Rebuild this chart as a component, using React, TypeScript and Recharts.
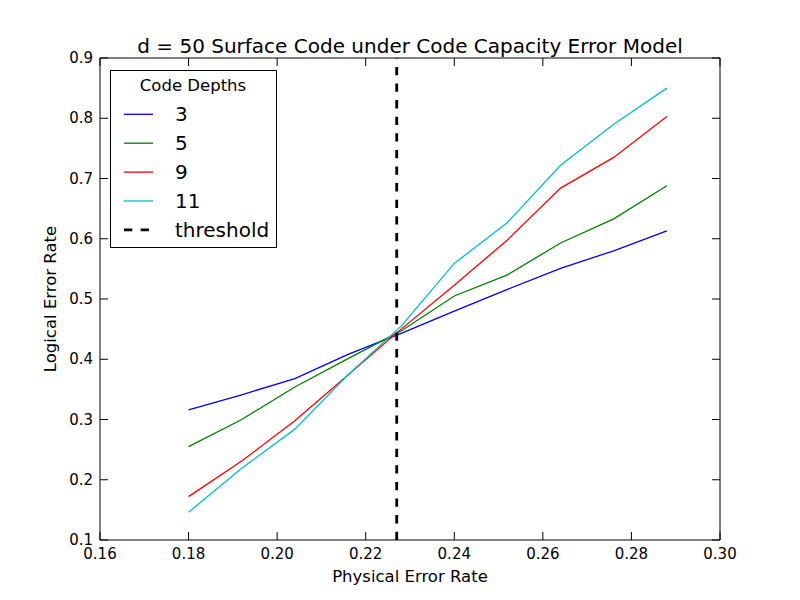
import React from 'react'
import { LineChart, Line, XAxis, YAxis, ReferenceLine } from 'recharts'

// physical error rates sampled
const physicalRates = [0.18, 0.192, 0.204, 0.216, 0.228, 0.24, 0.252, 0.264, 0.276, 0.288]

// logical error rate per code depth
const depth3 = [0.316, 0.341, 0.368, 0.408, 0.443, 0.48, 0.516, 0.551, 0.58, 0.613]
const depth5 = [0.255, 0.3, 0.354, 0.401, 0.447, 0.505, 0.54, 0.593, 0.633, 0.688]
const depth9 = [0.172, 0.231, 0.298, 0.374, 0.45, 0.523, 0.598, 0.684, 0.735, 0.803]
const depth11 = [0.146, 0.219, 0.284, 0.374, 0.455, 0.559, 0.627, 0.722, 0.79, 0.85]

const threshold = 0.227

const xTicks = [0.16, 0.18, 0.2, 0.22, 0.24, 0.26, 0.28, 0.3]
const yTicks = [0.1, 0.2, 0.3, 0.4, 0.5, 0.6, 0.7, 0.8, 0.9]

const seriesList = [
  { key: 'd3', label: '3', values: depth3, color: '#0000ff' },
  { key: 'd5', label: '5', values: depth5, color: '#008000' },
  { key: 'd9', label: '9', values: depth9, color: '#ff0000' },
  { key: 'd11', label: '11', values: depth11, color: '#00bfbf' },
]

const data = physicalRates.map((p, i) => {
  const row: Record<string, number> = { p }
  seriesList.forEach((s) => {
    row[s.key] = s.values[i]
  })
  return row
})

const FONT = '"DejaVu Sans", sans-serif'
const TICK_LEN = 8

// matplotlib-style inward ticks
const BottomTick = (props: any) => {
  const { x, y, payload } = props
  return (
    <g>
      <line x1={x} y1={y} x2={x} y2={y - TICK_LEN} stroke="#000" />
      <text x={x} y={y + 19} textAnchor="middle" fontSize={15} fontFamily={FONT} fill="#000">
        {Number(payload.value).toFixed(2)}
      </text>
    </g>
  )
}

const TopTick = (props: any) => {
  const { x, y } = props
  return <line x1={x} y1={y} x2={x} y2={y + TICK_LEN} stroke="#000" />
}

const LeftTick = (props: any) => {
  const { x, y, payload } = props
  return (
    <g>
      <line x1={x} y1={y} x2={x + TICK_LEN} y2={y} stroke="#000" />
      <text x={x - 7} y={y + 5} textAnchor="end" fontSize={15} fontFamily={FONT} fill="#000">
        {Number(payload.value).toFixed(1)}
      </text>
    </g>
  )
}

const RightTick = (props: any) => {
  const { x, y } = props
  return <line x1={x} y1={y} x2={x - TICK_LEN} y2={y} stroke="#000" />
}

function LegendBox() {
  const rows = [...seriesList.map((s) => ({ label: s.label, color: s.color, dash: undefined as string | undefined, w: 1.3 })),
    { label: 'threshold', color: '#000', dash: '8.3 8.3', w: 2.8 }]
  return (
    <svg width={168} height={179} style={{ position: 'absolute', left: 110, top: 70 }}>
      <rect x={0.5} y={0.5} width={166} height={177} fill="#fff" stroke="#000" />
      <text x={83} y={21} textAnchor="middle" fontSize={16.5} fontFamily={FONT}>Code Depths</text>
      {rows.map((r, i) => {
        const ly = 44.3 + i * 28.9
        return (
          <g key={r.label}>
            <line x1={14} y1={ly} x2={43} y2={ly} stroke={r.color} strokeWidth={r.w} strokeDasharray={r.dash} />
            <text x={65} y={ly + 7} fontSize={20} fontFamily={FONT}>{r.label}</text>
          </g>
        )
      })}
    </svg>
  )
}

export default function App() {
  return (
    <div style={{ position: 'absolute', left: 0, top: 0, width: 800, height: 600, background: '#fff', fontFamily: FONT }}>
      <LineChart width={800} height={600} data={data} margin={{ top: 57, right: 79, bottom: 0, left: 40 }}>
        <XAxis
          xAxisId="b"
          dataKey="p"
          type="number"
          domain={[0.16, 0.3]}
          ticks={xTicks}
          interval={0}
          allowDataOverflow
          height={60}
          tickSize={0}
          tickMargin={0}
          tickLine={false}
          axisLine={{ stroke: '#000' }}
          tick={BottomTick}
        />
        <XAxis
          xAxisId="t"
          orientation="top"
          dataKey="p"
          type="number"
          domain={[0.16, 0.3]}
          ticks={xTicks}
          interval={0}
          allowDataOverflow
          height={1}
          tickSize={0}
          tickMargin={0}
          tickLine={false}
          axisLine={{ stroke: '#000' }}
          tick={TopTick}
        />
        <YAxis
          yAxisId="l"
          type="number"
          domain={[0.1, 0.9]}
          ticks={yTicks}
          interval={0}
          allowDataOverflow
          width={60}
          tickSize={0}
          tickMargin={0}
          tickLine={false}
          axisLine={{ stroke: '#000' }}
          tick={LeftTick}
        />
        <YAxis
          yAxisId="r"
          orientation="right"
          type="number"
          domain={[0.1, 0.9]}
          ticks={yTicks}
          interval={0}
          allowDataOverflow
          width={1}
          tickSize={0}
          tickMargin={0}
          tickLine={false}
          axisLine={{ stroke: '#000' }}
          tick={RightTick}
        />
        {seriesList.map((s) => (
          <Line
            key={s.key}
            xAxisId="b"
            yAxisId="l"
            type="linear"
            dataKey={s.key}
            stroke={s.color}
            strokeWidth={1.3}
            dot={false}
            activeDot={false}
            isAnimationActive={false}
          />
        ))}
        <ReferenceLine
          xAxisId="b"
          yAxisId="l"
          x={threshold}
          stroke="#000"
          strokeWidth={2.8}
          strokeDasharray="8.3 8.3"
        />
      </LineChart>
      <div style={{ position: 'absolute', left: 100, width: 620, top: 35, textAlign: 'center', fontSize: 20, lineHeight: '23px', color: '#000' }}>
        d = 50 Surface Code under Code Capacity Error Model
      </div>
      <div style={{ position: 'absolute', left: 100, width: 620, top: 567, textAlign: 'center', fontSize: 16.5, lineHeight: '20px', color: '#000' }}>
        Physical Error Rate
      </div>
      <div
        style={{
          position: 'absolute',
          left: 51 - 100,
          top: 299 - 10,
          width: 200,
          textAlign: 'center',
          fontSize: 16.5,
          lineHeight: '20px',
          color: '#000',
          transform: 'rotate(-90deg)',
          transformOrigin: '100px 10px',
        }}
      >
        Logical Error Rate
      </div>
      <LegendBox />
    </div>
  )
}
